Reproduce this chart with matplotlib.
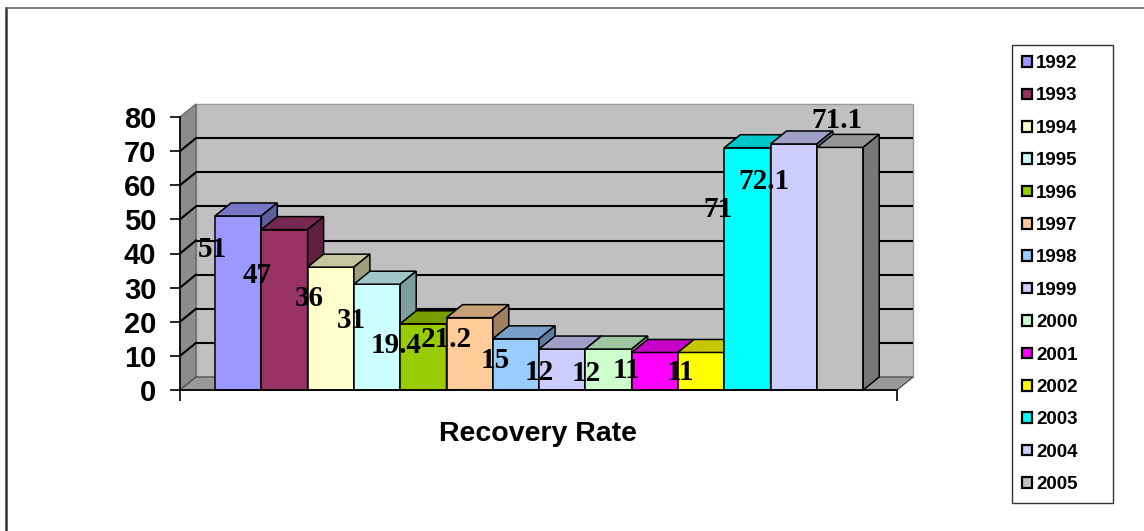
import matplotlib

matplotlib.use("Agg")
import matplotlib.pyplot as plt
from matplotlib.colors import to_rgb
from matplotlib.lines import Line2D
from matplotlib.patches import Polygon, Rectangle

years = ["1992", "1993", "1994", "1995", "1996", "1997", "1998",
         "1999", "2000", "2001", "2002", "2003", "2004", "2005"]
rates = [51, 47, 36, 31, 19.4, 21.2, 15, 12, 12, 11, 11, 71, 72.1, 71.1]
rate_labels = ["51", "47", "36", "31", "19.4", "21.2", "15",
               "12", "12", "11", "11", "71", "72.1", "71.1"]
bar_colors = ["#9999FF", "#993366", "#FFFFCC", "#CCFFFF", "#99CC00", "#FFCC99",
              "#99CCFF", "#CCCCFF", "#CCFFCC", "#FF00FF", "#FFFF00", "#00FFFF",
              "#CCCCFF", "#C0C0C0"]
yticks = [0, 10, 20, 30, 40, 50, 60, 70, 80]

# where Excel put each data label, pixels from the bar's front top-left corner
label_shift = [(-3, 34), (-4, 46), (2, 31), (-3, 36), (-4, 22), (0, 22), (2, 22),
               (0, 23), (1, 24), (-5, 18), (2, 20), (-6, 62), (-7, 38), (20, -27)]

W, H, DPI = 1144, 531, 100
fig = plt.figure(figsize=(W / DPI, H / DPI), dpi=DPI)
fig.patch.set_facecolor("white")

# plot area in pixels: front face x 180..897, y 390 (0) .. 117 (80)
ax = fig.add_axes([180 / W, 1 - 390 / H, 717 / W, 273 / H])
px_x = 46.3                    # pixels per bar slot
px_y = 273 / 80
xl = -0.5 - 35 / px_x
xr = xl + 717 / px_x
ax.set_xlim(xl, xr)
ax.set_ylim(0, 80)
dx = 16 / px_x                 # 3d depth in data units
dy = 13 / px_y

ax.set_facecolor("none")
for side in ("top", "right"):
    ax.spines[side].set_visible(False)
for side in ("left", "bottom"):
    ax.spines[side].set_linewidth(1.2)
    ax.spines[side].set_zorder(50)
ax.set_yticks(yticks)
ax.set_yticklabels([str(t) for t in yticks], fontsize=21, fontweight="bold",
                   family="Liberation Sans")
ax.set_xticks([xl, xr])
ax.set_xticklabels(["", ""])
ax.tick_params(axis="y", length=7, width=1.2, pad=10)
ax.tick_params(axis="x", length=8, width=1.2)

# walls and floor
ax.add_patch(Rectangle((xl + dx, dy), xr - xl, 80, facecolor="#C0C0C0",
                       edgecolor="#9a9a9a", lw=1, clip_on=False, zorder=1))
ax.add_patch(Polygon([(xl, 0), (xl + dx, dy), (xl + dx, 80 + dy), (xl, 80)],
                     closed=True, facecolor="#8c8c8c", edgecolor="#6a6a6a",
                     lw=1, clip_on=False, zorder=1))
ax.add_patch(Polygon([(xl, 0), (xr, 0), (xr + dx, dy), (xl + dx, dy)],
                     closed=True, facecolor="#9a9a9a", edgecolor="#555555",
                     lw=1, clip_on=False, zorder=1))
for t in yticks[1:-1]:
    ax.plot([xl + dx, xr + dx], [t + dy, t + dy], color="black", lw=1.5,
            clip_on=False, zorder=2, solid_capstyle="butt")
    ax.plot([xl, xl + dx], [t, t + dy], color="black", lw=1.5,
            clip_on=False, zorder=2)

# bars: front faces from ax.bar, then top and side faces from each bar
xs = list(range(len(rates)))
bars = ax.bar(xs, rates, width=1.0, color=bar_colors, edgecolor="black",
              linewidth=1.1, clip_on=False)
for i, (bar, color) in enumerate(zip(bars, bar_colors)):
    z = 10 + i
    bar.set_zorder(z)
    l = bar.get_x()
    r = l + bar.get_width()
    v = bar.get_height()
    rgb = to_rgb(color)
    top = tuple(c * 0.78 for c in rgb)
    side = tuple(c * 0.62 for c in rgb)
    ax.add_patch(Polygon([(l, v), (r, v), (r + dx, v + dy), (l + dx, v + dy)],
                         closed=True, facecolor=top, edgecolor="black",
                         lw=1.1, clip_on=False, zorder=z))
    ax.add_patch(Polygon([(r, 0), (r + dx, dy), (r + dx, v + dy), (r, v)],
                         closed=True, facecolor=side, edgecolor="black",
                         lw=1.1, clip_on=False, zorder=z))

for bar, text, (sx, sy) in zip(bars, rate_labels, label_shift):
    ax.annotate(text, xy=(bar.get_x(), bar.get_height()),
                xytext=(sx * 72 / DPI, -sy * 72 / DPI), textcoords="offset points",
                ha="center", va="center", fontsize=21, fontweight="bold",
                family="Liberation Serif", zorder=40, annotation_clip=False)

fig.text(538 / W, 1 - 434 / H, "Recovery Rate", ha="center", va="center",
         fontsize=20.5, fontweight="bold", family="Liberation Sans")

handles = [Rectangle((0, 0), 1, 1, facecolor=c, edgecolor="black", lw=1.6)
           for c in bar_colors]
leg = fig.legend(handles, years, loc="upper left", mode="expand",
                 bbox_to_anchor=(1012 / W, 1 - 495 / H, 101 / W, 450 / H),
                 prop={"family": "Liberation Sans", "weight": "bold", "size": 13.5},
                 frameon=True, fancybox=False, handlelength=0.5, handleheight=0.5,
                 handletextpad=0.25, labelspacing=0.82, borderpad=0.54,
                 borderaxespad=0)
leg.get_frame().set_edgecolor("black")
leg.get_frame().set_linewidth(1.0)

# outer chart border (only the top and left edges fall inside the picture)
fig.add_artist(Line2D([6 / W, 6 / W], [0, 1 - 8 / H], color="#333333", lw=1.8))
fig.add_artist(Line2D([6 / W, 1], [1 - 8 / H, 1 - 8 / H], color="#666666", lw=1.2))

fig.savefig("out.png", dpi=DPI)
